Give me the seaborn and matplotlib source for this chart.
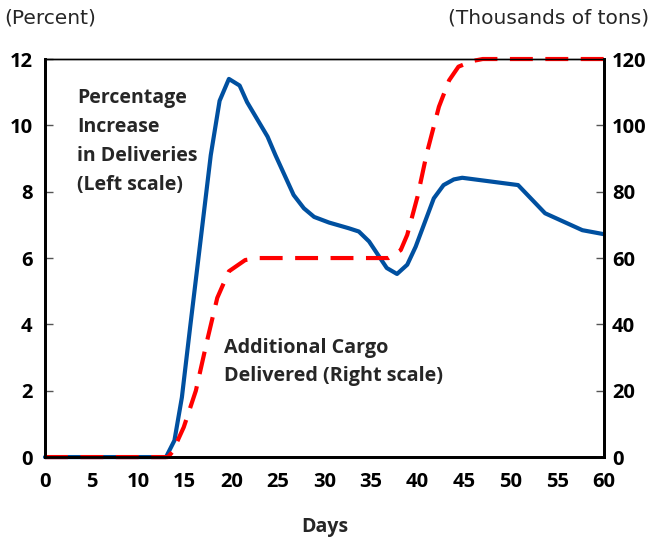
import matplotlib
matplotlib.use("Agg")
import matplotlib.pyplot as plt
import seaborn as sns
import pandas as pd

# Data
days_pct = [0, 13, 13.9, 14.7, 15.6, 16.5, 17.8, 18.75, 19.75, 20.9, 21.7, 23.9, 24.75, 26.7, 27.8, 28.9,
            30.5, 32.6, 33.7, 34.8, 36.7, 37.8, 38.9, 39.8, 41.75, 42.8, 43.9, 44.8, 50.8, 53.7, 57.7, 60]
pct_increase = [0, 0, 0.5, 1.8, 3.95, 6.05, 9.1, 10.74, 11.4, 11.2, 10.7, 9.66, 9.1, 7.9, 7.5, 7.24,
                7.07, 6.9, 6.8, 6.5, 5.7, 5.52, 5.8, 6.34, 7.8, 8.2, 8.37, 8.42, 8.2, 7.35, 6.84, 6.72]

days_cargo = [0, 13.2, 13.7, 14.9, 16.2, 17.4, 18.5, 19.75, 21.5, 23, 36.9, 38.2, 38.9, 40, 41, 42.3,
              43.4, 44.4, 45.9, 47, 60]
cargo_k = [0, 0, 1.6, 9, 20, 35, 48, 56, 59.4, 60, 60, 62.4, 67, 78.5, 91.6, 105.6,
           113.6, 117.7, 119.4, 120, 120]

x_ticks = [0, 5, 10, 15, 20, 25, 30, 35, 40, 45, 50, 55, 60]
left_ticks = [0, 2, 4, 6, 8, 10, 12]
right_ticks = [0, 20, 40, 60, 80, 100, 120]

sns.set_theme(style="white")
plt.rcParams['font.family'] = ['Open Sans', 'DejaVu Sans']

fig = plt.figure(figsize=(6.52, 5.39), dpi=100)
ax = fig.add_axes([0.069, 0.152, 0.857, 0.7385])
ax2 = ax.twinx()

df_p = pd.DataFrame({"day": days_pct, "val": pct_increase})
df_c = pd.DataFrame({"day": days_cargo, "val": cargo_k})

sns.lineplot(data=df_p, x="day", y="val", ax=ax, color="#0050a0", linewidth=3, clip_on=False)
sns.lineplot(data=df_c, x="day", y="val", ax=ax2, color="#ff0000", linewidth=3, clip_on=False)
ax2.lines[-1].set_dashes([5.5, 3.0])

ax.set_xlim(0, 60)
ax.set_ylim(0, 12)
ax2.set_ylim(0, 120)
ax.set_xticks(x_ticks)
ax.set_yticks(left_ticks)
ax2.set_yticks(right_ticks)

for a in (ax, ax2):
    a.set_xlabel("")
    a.set_ylabel("")
    for s in ("left", "right", "bottom"):
        a.spines[s].set_linewidth(2)
        a.spines[s].set_color("black")
    a.spines["top"].set_linewidth(1)
    a.spines["top"].set_color("black")
    a.tick_params(direction="in", length=6, width=1, colors="#555555",
                  labelcolor="black", labelsize=14.5, pad=8)
for lab in ax.get_xticklabels() + ax.get_yticklabels() + ax2.get_yticklabels():
    lab.set_fontweight("bold")
ax.tick_params(axis="x", pad=11)
ax.tick_params(axis="y", left=True, right=False, pad=9)
ax2.tick_params(axis="y", right=True, left=False, pad=6)

fig.text(0.007, 0.966, "(Percent)", fontsize=14.5, ha="left", va="center", family="DejaVu Sans")
fig.text(0.995, 0.966, "(Thousands of tons)", fontsize=14.5, ha="right", va="center", family="DejaVu Sans")
ax.set_xlabel("Days", fontsize=14, fontweight="bold", labelpad=18)

ax.text(0.057, 0.927, "Percentage\nIncrease\nin Deliveries\n(Left scale)", transform=ax.transAxes,
        fontsize=14, fontweight="bold", ha="left", va="top", linespacing=1.6)
ax.text(0.32, 0.30, "Additional Cargo\nDelivered (Right scale)", transform=ax.transAxes,
        fontsize=14.2, fontweight="bold", ha="left", va="top", linespacing=1.58)

fig.savefig("out.png", dpi=100)
